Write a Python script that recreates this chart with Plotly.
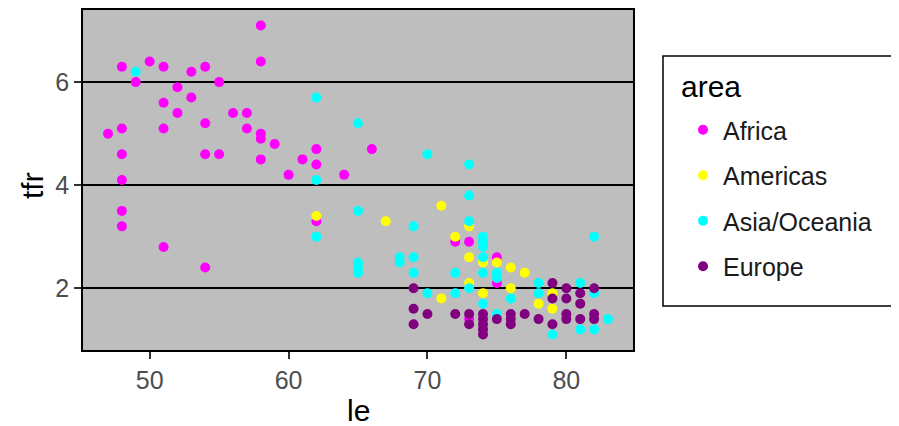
import plotly.graph_objects as go

# ---- data ----
areas = ["Africa", "Americas", "Asia/Oceania", "Europe"]
colors = ["#FF00FF", "#FFFF00", "#00FFFF", "#800080"]

africa_le = [58, 58, 48, 50, 51, 53, 54, 49, 55, 52, 51, 53, 52, 56, 57, 54, 48, 47, 51, 57,
             58, 58, 59, 48, 54, 55, 58, 48, 48, 48, 51, 54, 62, 66, 61, 62, 60, 64, 62, 72,
             73, 75, 75, 73]
africa_tfr = [7.1, 6.4, 6.3, 6.4, 6.3, 6.2, 6.3, 6.0, 6.0, 5.9, 5.6, 5.7, 5.4, 5.4, 5.4, 5.2, 5.1, 5.0, 5.1, 5.1,
              5.0, 4.9, 4.8, 4.6, 4.6, 4.6, 4.5, 4.1, 3.5, 3.2, 2.8, 2.4, 4.7, 4.7, 4.5, 4.4, 4.2, 4.2, 3.3, 2.9,
              2.9, 2.6, 2.1, 1.4]

americas_le = [62, 67, 71, 71, 72, 73, 73, 74, 75, 76, 77, 73, 74, 76, 78, 79, 79]
americas_tfr = [3.4, 3.3, 3.6, 1.8, 3.0, 3.2, 2.6, 2.5, 2.5, 2.4, 2.3, 2.1, 1.9, 2.0, 1.7, 1.9, 1.6]

asia_le = [49, 62, 65, 70, 62, 65, 69, 62, 65, 65, 65, 68, 68, 69, 69, 70, 73, 73, 73, 74,
           74, 74, 74, 75, 75, 74, 72, 73, 72, 76, 78, 78, 81, 82, 82, 74, 75, 79, 81, 82, 83]
asia_tfr = [6.2, 5.7, 5.2, 4.6, 4.1, 3.5, 3.2, 3.0, 2.5, 2.4, 2.3, 2.6, 2.5, 2.6, 2.3, 1.9, 4.4, 3.8, 3.3, 3.0,
            2.9, 2.8, 2.6, 2.3, 2.2, 2.3, 2.3, 2.0, 1.9, 1.8, 2.1, 1.9, 2.1, 1.9, 3.0, 1.7, 1.5, 1.1, 1.2, 1.2, 1.4]

europe_le = [69, 69, 70, 69, 72, 73, 73, 74, 74, 74, 74, 74, 75, 76, 76, 76, 77, 78, 79, 79,
             79, 80, 80, 80, 80, 81, 81, 81, 82, 82, 82]
europe_tfr = [2.0, 1.6, 1.5, 1.3, 1.5, 1.5, 1.3, 1.5, 1.4, 1.3, 1.2, 1.1, 1.4, 1.5, 1.4, 1.3, 1.5, 1.4, 2.1, 1.8,
              1.3, 2.0, 1.8, 1.5, 1.4, 1.9, 1.7, 1.4, 2.0, 1.5, 1.4]

x_ticks = [50, 60, 70, 80]
y_ticks = [2, 4, 6]

series = [(africa_le, africa_tfr), (americas_le, americas_tfr),
          (asia_le, asia_tfr), (europe_le, europe_tfr)]

FONT = "Liberation Sans, Arial, sans-serif"

fig = go.Figure()
for name, col, (xs, ys) in zip(areas, colors, series):
    fig.add_trace(go.Scatter(
        x=xs, y=ys, mode="markers", name=name, legendgroup=name,
        marker=dict(color=col, size=10, line=dict(width=0)),
    ))

# The page body has an 8px margin, so target pixel positions are shifted by OFF.
OFF = 8
W, H = 899 - OFF, 426 - OFF
L, R, T, B = 83 - OFF, 633 - OFF, 10 - OFF, 350 - OFF
pw, ph = R - L, B - T

def px_x(p):
    return (p - OFF - L) / pw

def px_y(p):
    return (B - (p - OFF)) / ph

fig.update_layout(
    width=W, height=H,
    margin=dict(l=L, r=W - R, t=T, b=H - B, autoexpand=False),
    paper_bgcolor="white",
    plot_bgcolor="#BEBEBE",
    font=dict(family=FONT),
    showlegend=True,
    legend=dict(
        x=px_x(683), xanchor="left",
        y=px_y(107), yanchor="top",
        bgcolor="rgba(0,0,0,0)", borderwidth=0,
        font=dict(size=25, color="#1a1a1a", family=FONT),
        tracegroupgap=10,
        itemsizing="trace",
    ),
    xaxis=dict(
        range=[45.2, 84.8], tickvals=x_ticks, showgrid=False, zeroline=False,
        ticks="outside", ticklen=7, tickwidth=1.5, tickcolor="#333333",
        tickfont=dict(size=25, color="#4D4D4D", family=FONT),
        showline=True, mirror=True, linecolor="black", linewidth=1.5,
    ),
    yaxis=dict(
        range=[0.8, 7.4], tickvals=y_ticks, showgrid=True, gridcolor="black", gridwidth=1.5,
        zeroline=False,
        ticks="outside", ticklen=7, tickwidth=1.5, tickcolor="#333333",
        tickfont=dict(size=25, color="#4D4D4D", family=FONT),
        showline=True, mirror=True, linecolor="black", linewidth=1.5,
    ),
    shapes=[dict(
        type="rect", xref="paper", yref="paper",
        x0=px_x(663), x1=px_x(892), y0=px_y(306), y1=px_y(56),
        line=dict(color="black", width=1.5), fillcolor="rgba(0,0,0,0)", layer="below",
    )],
    annotations=[
        dict(text="area", xref="paper", yref="paper", x=px_x(679), y=px_y(87),
             xanchor="left", yanchor="middle", showarrow=False,
             font=dict(size=30, color="black", family=FONT)),
        dict(text="le", xref="paper", yref="paper", x=0.5, y=px_y(410),
             xanchor="center", yanchor="middle", showarrow=False,
             font=dict(size=30, color="black", family=FONT)),
        dict(text="tfr", xref="paper", yref="paper", x=px_x(33), y=px_y(186),
             xanchor="center", yanchor="middle", showarrow=False, textangle=-90,
             font=dict(size=30, color="black", family=FONT)),
    ],
)

fig.write_html("out.html")
